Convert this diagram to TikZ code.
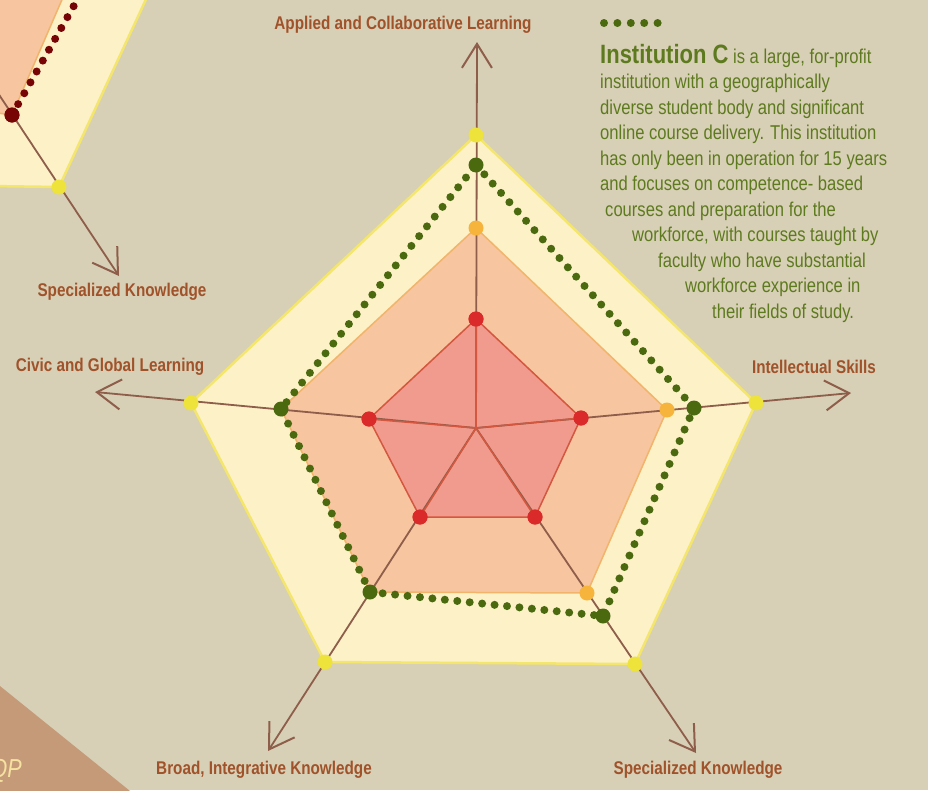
\documentclass[tikz,border=0pt]{standalone}
\usepackage{fontspec}
\setmainfont{Liberation Sans}
\newfontfamily\cond[FakeStretch=0.83]{Liberation Sans}
\usetikzlibrary{arrows.meta}
\definecolor{bgc}{HTML}{D7D0B6}
\definecolor{labc}{HTML}{A0522A}
\definecolor{txtg}{HTML}{5E7A1E}
\definecolor{dotg}{HTML}{4B6A10}
\definecolor{dred}{HTML}{780505}
\definecolor{yfill}{HTML}{FDF1C8}
\definecolor{ystroke}{HTML}{F4E56C}
\definecolor{ypoint}{HTML}{EDE33A}
\definecolor{ofill}{HTML}{F7C59F}
\definecolor{ostroke}{HTML}{F2B46A}
\definecolor{opoint}{HTML}{F6B43C}
\definecolor{rfill}{HTML}{F19A8E}
\definecolor{rstroke}{HTML}{D4573F}
\definecolor{rpoint}{HTML}{DA2A2A}
\definecolor{axisc}{HTML}{8E5E4A}
\definecolor{tric}{HTML}{C49A78}
\definecolor{qpc}{HTML}{F6E2A0}
\begin{document}
\begin{tikzpicture}[x=1pt,y=-1pt,
  axis/.style={draw=axisc, line width=1.8pt, -{Straight Barb[length=24pt,width=30pt,line width=2pt]}},
  spoke/.style={draw=rstroke, line width=1.5pt},
  dot/.style={circle, inner sep=0pt, minimum size=15pt, draw=none},
  ypt/.style={dot, fill=ypoint},
  opt/.style={dot, fill=opoint},
  rpt/.style={dot, fill=rpoint},
  gpt/.style={dot, fill=dotg},
  dpt/.style={dot, fill=dred},
  ypoly/.style={fill=yfill, draw=ystroke, line width=2.5pt, line join=round},
  opoly/.style={fill=ofill, draw=ostroke, line width=1.5pt, line join=round},
  rpoly/.style={fill=rfill, draw=rstroke, line width=1.5pt, line join=round},
  dotline/.style={line width=8pt, line cap=round, dash pattern=on 0pt off 12.5pt},
  lab/.style={font=\cond\bfseries\fontsize{18.4}{21}\selectfont, text=labc, inner sep=0pt},
  body/.style={font=\cond\fontsize{20}{24}\selectfont, text=txtg, inner sep=0pt, anchor=base west}
]
\useasboundingbox (0,0) rectangle (928,790);
\fill[bgc] (0,0) rectangle (928,790);
\begin{scope}
\clip (0,0) rectangle (928,790);
% ---- partial chart top-left ----
\fill[yfill] (-10,186) -- (59,187) -- (148,-5) -- (-10,-5) -- cycle;
\draw[ystroke, line width=2.5pt] (-10,186) -- (59,187) -- (148,-5);
\fill[ofill] (-10,112) -- (12,115) -- (64,-5) -- (-10,-5) -- cycle;
\draw[ostroke, line width=1.5pt] (-10,112) -- (12,115) -- (64,-5);
\coordinate (pO) at (-10,81);
\coordinate (ptip) at (119,276);
\draw[axis] (pO) -- (ptip);
\coordinate (pd) at (80,-5);
\node[dpt] (pr) at (12,115) {};
\draw[dred, dotline] (pr.center) -- (pd);
\node[dpt] at (pr) {};
\node[ypt] (py) at (59,187) {};
\node[lab] (plab) at (122,292) {Specialized Knowledge};
% ---- bottom-left triangle ----
\fill[tric] (-5,682) -- (135,795) -- (-5,795) -- cycle;
\node[font=\cond\itshape\fontsize{26}{30}\selectfont, text=qpc, inner sep=0pt, anchor=base east] (qp) at (22,777) {QP};
% ---- main chart ----
\coordinate (O) at (476,428);
\draw[ypoly] (476,135) -- (756,403) -- (635,664) -- (325,662) -- (191,403) -- cycle;
\draw[opoly] (476,228) -- (667,410) -- (587,593) -- (370,592) -- (281,409) -- cycle;
\draw[rpoly] (476,319) -- (581,418) -- (535,517) -- (420,517) -- (369,419) -- cycle;
\coordinate (tA) at (477,42);
\coordinate (tI) at (851,393);
\coordinate (tS) at (696,753);
\coordinate (tB) at (268,751);
\coordinate (tC) at (95,392);
\draw[axis] (O) -- (tA);
\draw[axis] (O) -- (tI);
\draw[axis] (O) -- (tS);
\draw[axis] (O) -- (tB);
\draw[axis] (O) -- (tC);
% red points
\node[rpt] (r1) at (476,319) {};
\node[rpt] (r2) at (581,418) {};
\node[rpt] (r3) at (535,517) {};
\node[rpt] (r4) at (420,517) {};
\node[rpt] (r5) at (369,419) {};
\foreach \r in {r1,r2,r3,r4,r5} \draw[spoke] (O) -- (\r.center);
\foreach \r in {r1,r2,r3,r4,r5} \node[rpt] at (\r) {};
% orange points
\node[opt] (o1) at (476,228) {};
\node[opt] (o2) at (667,410) {};
\node[opt] (o3) at (587,593) {};
% green dotted polygon
\coordinate (g1) at (476,165);
\coordinate (g2) at (694,408);
\coordinate (g3) at (603,616);
\coordinate (g4) at (370,592);
\coordinate (g5) at (281,409);
\draw[dotg, dotline] (g1) -- (g2) -- (g3) -- (g4) -- (g5) -- cycle;
\foreach \g in {g1,g2,g3,g4,g5} \node[gpt] (n\g) at (\g) {};
% yellow points
\node[ypt] (y1) at (476,135) {};
\node[ypt] (y2) at (756,403) {};
\node[ypt] (y3) at (635,664) {};
\node[ypt] (y4) at (325,662) {};
\node[ypt] (y5) at (191,403) {};
\end{scope}
% labels
\node[lab] (lA) at (403,25) {Applied and Collaborative Learning};
\node[lab] (lI) at (814,367) {Intellectual Skills};
\node[lab] (lC) at (110,367) {Civic and Global Learning};
\node[lab] (lB) at (264,770) {Broad, Integrative Knowledge};
\node[lab] (lS) at (698,770) {Specialized Knowledge};
% legend dots
\coordinate (ld1) at (604,23);
\coordinate (ld2) at (660,23);
\draw[dotg, line width=8pt, line cap=round, dash pattern=on 0pt off 13.4pt] (ld1) -- (ld2);
% text block
\node[body] (t1) at (600,63) {{\fontsize{26.5}{30}\selectfont\bfseries Institution C} is a large, for-profit};
\node[body] (t2) at (600,88.5) {institution with a geographically};
\node[body] (t3) at (600,114) {diverse student body and significant};
\node[body] (t4) at (600,139.5) {online course delivery. This institution};
\node[body] (t5) at (600,165) {has only been in operation for 15 years};
\node[body] (t6) at (600,190.5) {and focuses on competence- based};
\node[body] (t7) at (605,216) {courses and preparation for the};
\node[body] (t8) at (632,241.5) {workforce, with courses taught by};
\node[body] (t9) at (658,267) {faculty who have substantial};
\node[body] (t10) at (685,292.5) {workforce experience in};
\node[body] (t11) at (712,318) {their fields of study.};
\end{tikzpicture}
\end{document}
